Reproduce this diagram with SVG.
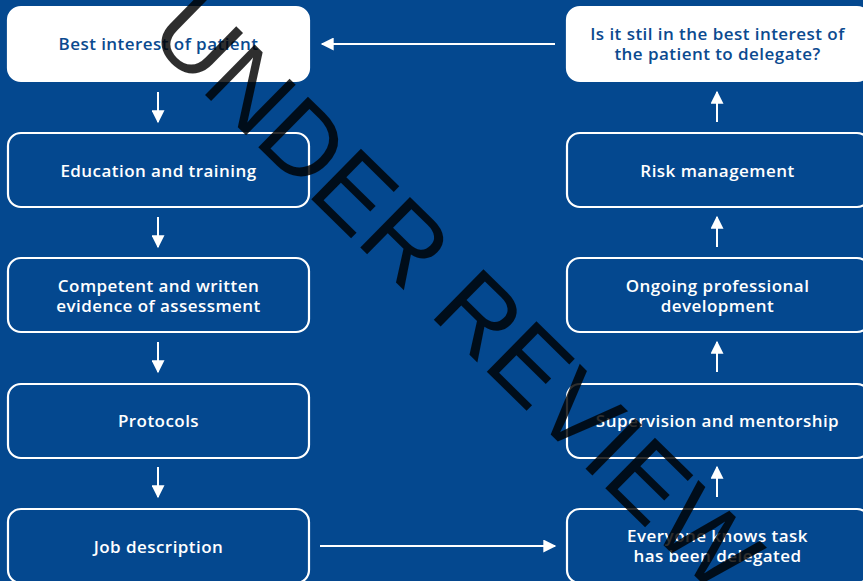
<svg xmlns="http://www.w3.org/2000/svg" width="863" height="581" viewBox="0 0 863 581">
<defs>
<style>
.bg{fill:#04488f}
.box{fill:none;stroke:#ffffff;stroke-width:2.2}
.wbox{fill:#ffffff;stroke:#ffffff;stroke-width:2.2}
.t{font-family:"Open Sans","Liberation Sans",sans-serif;font-weight:600;font-size:17px;letter-spacing:0.45px;fill:#ffffff;text-anchor:middle}
.tb{fill:#0b4a8f}
.c{stroke:#ffffff;stroke-width:2;fill:none}
.wm{font-family:"Liberation Sans","DejaVu Sans",sans-serif;font-size:103px;fill:#000000;fill-opacity:0.82}
</style>
<marker id="ahh" viewBox="0 0 10 10" refX="9" refY="5" markerWidth="18" markerHeight="13" markerUnits="userSpaceOnUse" orient="auto">
<path d="M0,0 L10,5 L0,10 Z" fill="#ffffff"/>
</marker>
</defs>
<rect class="bg" x="0" y="0" width="863" height="581"/>

<g id="n1"><rect class="wbox" x="8" y="7" width="301" height="74" rx="13"/><text class="t tb" x="158.5" y="50">Best interest of patient</text></g>
<g id="n2"><rect class="box" x="8" y="133" width="301" height="74" rx="13"/><text class="t" x="158.5" y="177">Education and training</text></g>
<g id="n3"><rect class="box" x="8" y="258" width="301" height="74" rx="13"/><text class="t" x="158.5" y="292">Competent and written</text><text class="t" x="158.5" y="312">evidence of assessment</text></g>
<g id="n4"><rect class="box" x="8" y="384" width="301" height="74" rx="13"/><text class="t" x="158.5" y="427">Protocols</text></g>
<g id="n5"><rect class="box" x="8" y="509" width="301" height="74" rx="13"/><text class="t" x="158.5" y="553">Job description</text></g>

<g id="n6"><rect class="box" x="567" y="509" width="303" height="74" rx="13"/><text class="t" x="717.5" y="542">Everyone knows task</text><text class="t" x="717.5" y="562">has been delegated</text></g>
<g id="n7"><rect class="box" x="567" y="384" width="303" height="74" rx="13"/><text class="t" x="717.5" y="427">Supervision and mentorship</text></g>
<g id="n8"><rect class="box" x="567" y="258" width="303" height="74" rx="13"/><text class="t" x="717.5" y="292">Ongoing professional</text><text class="t" x="717.5" y="312">development</text></g>
<g id="n9"><rect class="box" x="567" y="133" width="303" height="74" rx="13"/><text class="t" x="717.5" y="177">Risk management</text></g>
<g id="n10"><rect class="wbox" x="567" y="7" width="303" height="74" rx="13"/><text class="t tb" x="717.5" y="40">Is it stil in the best interest of</text><text class="t tb" x="717.5" y="60">the patient to delegate?</text></g>

<g id="connectors">
<line class="c" x1="158" y1="92" x2="158" y2="122" marker-end="url(#ahh)"/>
<line class="c" x1="158" y1="217" x2="158" y2="247" marker-end="url(#ahh)"/>
<line class="c" x1="158" y1="342" x2="158" y2="372" marker-end="url(#ahh)"/>
<line class="c" x1="158" y1="467" x2="158" y2="497" marker-end="url(#ahh)"/>
<line class="c" x1="320" y1="546" x2="555" y2="546" marker-end="url(#ahh)"/>
<line class="c" x1="717" y1="497" x2="717" y2="467" marker-end="url(#ahh)"/>
<line class="c" x1="717" y1="372" x2="717" y2="342" marker-end="url(#ahh)"/>
<line class="c" x1="717" y1="247" x2="717" y2="217" marker-end="url(#ahh)"/>
<line class="c" x1="717" y1="122" x2="717" y2="92" marker-end="url(#ahh)"/>
<line class="c" x1="555" y1="44" x2="322" y2="44" marker-end="url(#ahh)"/>
</g>

<text class="wm" transform="translate(457,292) rotate(44.5)" text-anchor="middle" dy="36">UNDER REVIEW</text>
</svg>
